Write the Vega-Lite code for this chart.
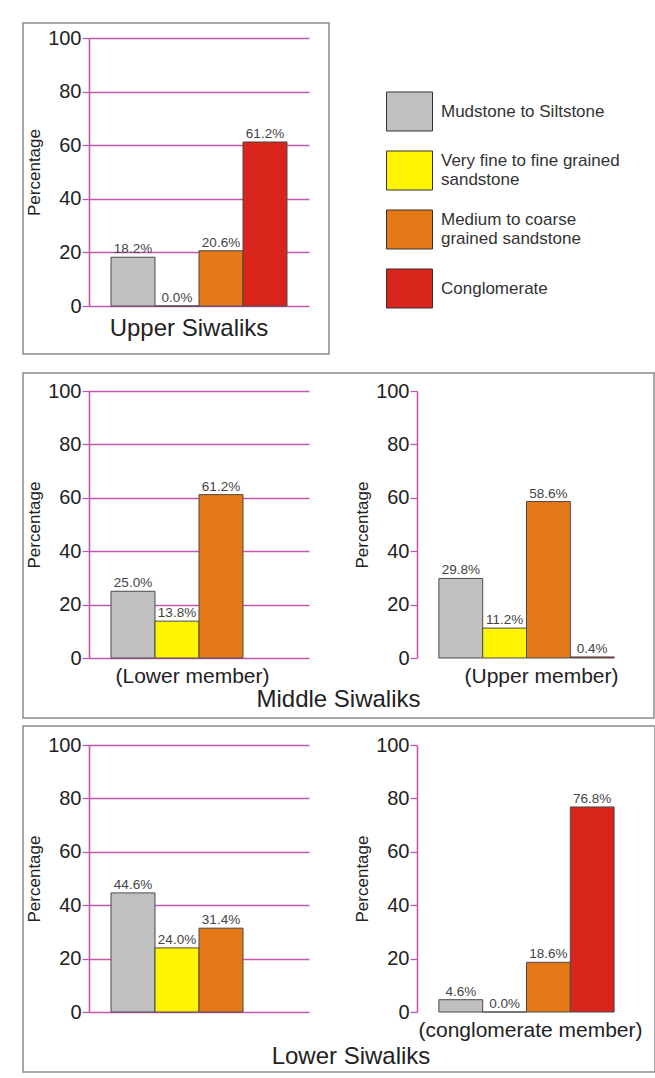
{
  "$schema": "https://vega.github.io/schema/vega-lite/v6.json",
  "padding": {"left": 22, "top": 22, "right": 2, "bottom": 4},
  "background": "white",
  "datasets": {
    "upper": [
      {"lithology": "Mudstone to Siltstone", "percent": 18.2},
      {"lithology": "Very fine to fine grained sandstone", "percent": 0.0},
      {"lithology": "Medium to coarse grained sandstone", "percent": 20.6},
      {"lithology": "Conglomerate", "percent": 61.2}
    ],
    "middleLower": [
      {"lithology": "Mudstone to Siltstone", "percent": 25.0},
      {"lithology": "Very fine to fine grained sandstone", "percent": 13.8},
      {"lithology": "Medium to coarse grained sandstone", "percent": 61.2}
    ],
    "middleUpper": [
      {"lithology": "Mudstone to Siltstone", "percent": 29.8},
      {"lithology": "Very fine to fine grained sandstone", "percent": 11.2},
      {"lithology": "Medium to coarse grained sandstone", "percent": 58.6},
      {"lithology": "Conglomerate", "percent": 0.4}
    ],
    "lowerMain": [
      {"lithology": "Mudstone to Siltstone", "percent": 44.6},
      {"lithology": "Very fine to fine grained sandstone", "percent": 24.0},
      {"lithology": "Medium to coarse grained sandstone", "percent": 31.4}
    ],
    "lowerConglomerate": [
      {"lithology": "Mudstone to Siltstone", "percent": 4.6},
      {"lithology": "Very fine to fine grained sandstone", "percent": 0.0},
      {"lithology": "Medium to coarse grained sandstone", "percent": 18.6},
      {"lithology": "Conglomerate", "percent": 76.8}
    ]
  },
  "vconcat": [
    {
      "spacing": 17,
      "vconcat": [
        {
          "width": 306,
          "height": 331,
          "title": {"text": "Upper Siwaliks", "offset": -37, "dx": 13},
          "data": {"name": "upper"},
          "transform": [{"calculate": "format(datum.percent, '.1f') + '%'", "as": "label"}],
          "encoding": {
            "x": {"field": "lithology", "type": "nominal",
                  "scale": {"domain": ["Mudstone to Siltstone", "Very fine to fine grained sandstone", "Medium to coarse grained sandstone", "Conglomerate"],
                            "range": [66, 286], "paddingInner": 0, "paddingOuter": 0.5},
                  "axis": null},
            "y": {"field": "percent", "type": "quantitative",
                  "scale": {"domain": [0, 100], "range": [283, 15], "nice": false},
                  "axis": {"orient": "left", "offset": -66, "title": "Percentage", "values": [0, 20, 40, 60, 80, 100]}}
          },
          "layer": [
            {"mark": {"type": "bar"},
             "encoding": {"color": {"field": "lithology", "type": "nominal",
               "scale": {"domain": ["Mudstone to Siltstone", "Very fine to fine grained sandstone", "Medium to coarse grained sandstone", "Conglomerate"],
                         "range": ["#c0c0c0", "#fff500", "#e57817", "#d9241c"]},
               "legend": {"labelExpr": "datum.label == 'Very fine to fine grained sandstone' ? ['Very fine to fine grained', 'sandstone'] : datum.label == 'Medium to coarse grained sandstone' ? ['Medium to coarse', 'grained sandstone'] : datum.label"}}}},
            {"mark": {"type": "text"}, "encoding": {"text": {"field": "label"}}}
          ]
        },
        {
          "width": 631,
          "height": 345,
          "title": {"text": "Middle Siwaliks", "offset": -30},
          "layer": [
            {
              "data": {"name": "middleLower"},
              "transform": [{"calculate": "format(datum.percent, '.1f') + '%'", "as": "label"}],
              "encoding": {
                "x": {"field": "lithology", "type": "nominal",
                      "scale": {"domain": ["Mudstone to Siltstone", "Very fine to fine grained sandstone", "Medium to coarse grained sandstone", "Conglomerate"],
                                "range": [66, 286], "paddingInner": 0, "paddingOuter": 0.5},
                      "axis": {"orient": "bottom", "offset": -60, "title": "(Lower member)", "titleX": 169, "titlePadding": 7}},
                "y": {"field": "percent", "type": "quantitative",
                      "scale": {"domain": [0, 100], "range": [285, 18], "nice": false},
                      "axis": {"orient": "left", "offset": -66, "title": "Percentage", "values": [0, 20, 40, 60, 80, 100]}}
              },
              "layer": [
                {"mark": {"type": "bar"},
                 "encoding": {"color": {"field": "lithology", "type": "nominal",
                   "legend": {"labelExpr": "datum.label == 'Very fine to fine grained sandstone' ? ['Very fine to fine grained', 'sandstone'] : datum.label == 'Medium to coarse grained sandstone' ? ['Medium to coarse', 'grained sandstone'] : datum.label"}}}},
                {"mark": {"type": "text"}, "encoding": {"text": {"field": "label"}}}
              ]
            },
            {
              "data": {"name": "middleUpper"},
              "transform": [{"calculate": "format(datum.percent, '.1f') + '%'", "as": "label"}],
              "encoding": {
                "x": {"field": "lithology", "type": "nominal",
                      "scale": {"domain": ["Mudstone to Siltstone", "Very fine to fine grained sandstone", "Medium to coarse grained sandstone", "Conglomerate"],
                                "range": [394, 613], "paddingInner": 0, "paddingOuter": 0.5},
                      "axis": {"orient": "bottom", "offset": -60, "title": "(Upper member)", "titleX": 518, "titlePadding": 7}},
                "y": {"field": "percent", "type": "quantitative",
                      "scale": {"domain": [0, 100], "range": [285, 18], "nice": false},
                      "axis": {"orient": "left", "offset": -394, "title": "Percentage", "values": [0, 20, 40, 60, 80, 100]}}
              },
              "layer": [
                {"mark": {"type": "bar"},
                 "encoding": {"color": {"field": "lithology", "type": "nominal",
                   "legend": {"labelExpr": "datum.label == 'Very fine to fine grained sandstone' ? ['Very fine to fine grained', 'sandstone'] : datum.label == 'Medium to coarse grained sandstone' ? ['Medium to coarse', 'grained sandstone'] : datum.label"}}}},
                {"mark": {"type": "text"}, "encoding": {"text": {"field": "label"}}}
              ]
            }
          ],
          "resolve": {"scale": {"x": "independent", "y": "independent"}, "axis": {"x": "independent", "y": "independent"}}
        }
      ]
    },
    {
      "width": 632,
      "height": 346,
      "title": {"text": "Lower Siwaliks", "offset": -27, "dx": 12},
      "layer": [
        {
          "data": {"name": "lowerMain"},
          "transform": [{"calculate": "format(datum.percent, '.1f') + '%'", "as": "label"}],
          "encoding": {
            "x": {"field": "lithology", "type": "nominal",
                  "scale": {"domain": ["Mudstone to Siltstone", "Very fine to fine grained sandstone", "Medium to coarse grained sandstone", "Conglomerate"],
                            "range": [66, 286], "paddingInner": 0, "paddingOuter": 0.5},
                  "axis": null},
            "y": {"field": "percent", "type": "quantitative",
                  "scale": {"domain": [0, 100], "range": [286, 19], "nice": false},
                  "axis": {"orient": "left", "offset": -66, "title": "Percentage", "values": [0, 20, 40, 60, 80, 100]}}
          },
          "layer": [
            {"mark": {"type": "bar"},
             "encoding": {"color": {"field": "lithology", "type": "nominal",
               "legend": {"labelExpr": "datum.label == 'Very fine to fine grained sandstone' ? ['Very fine to fine grained', 'sandstone'] : datum.label == 'Medium to coarse grained sandstone' ? ['Medium to coarse', 'grained sandstone'] : datum.label"}}}},
            {"mark": {"type": "text"}, "encoding": {"text": {"field": "label"}}}
          ]
        },
        {
          "data": {"name": "lowerConglomerate"},
          "transform": [{"calculate": "format(datum.percent, '.1f') + '%'", "as": "label"}],
          "encoding": {
            "x": {"field": "lithology", "type": "nominal",
                  "scale": {"domain": ["Mudstone to Siltstone", "Very fine to fine grained sandstone", "Medium to coarse grained sandstone", "Conglomerate"],
                            "range": [394, 613], "paddingInner": 0, "paddingOuter": 0.5},
                  "axis": {"orient": "bottom", "offset": -60, "title": "(conglomerate member)", "titleX": 507, "titlePadding": 7}},
            "y": {"field": "percent", "type": "quantitative",
                  "scale": {"domain": [0, 100], "range": [286, 19], "nice": false},
                  "axis": {"orient": "left", "offset": -394, "title": "Percentage", "values": [0, 20, 40, 60, 80, 100]}}
          },
          "layer": [
            {"mark": {"type": "bar"},
             "encoding": {"color": {"field": "lithology", "type": "nominal",
               "legend": {"labelExpr": "datum.label == 'Very fine to fine grained sandstone' ? ['Very fine to fine grained', 'sandstone'] : datum.label == 'Medium to coarse grained sandstone' ? ['Medium to coarse', 'grained sandstone'] : datum.label"}}}},
            {"mark": {"type": "text"}, "encoding": {"text": {"field": "label"}}}
          ]
        }
      ],
      "resolve": {"scale": {"x": "independent", "y": "independent"}, "axis": {"x": "independent", "y": "independent"}}
    }
  ],
  "spacing": 6,
  "config": {
    "font": "Liberation Sans",
    "view": {"stroke": "#8c8c8c", "strokeWidth": 1.5},
    "bar": {"stroke": "#4a4a4a", "strokeWidth": 1},
    "text": {"baseline": "bottom", "dy": -1, "fontSize": 13.5, "color": "#444"},
    "title": {"orient": "bottom", "frame": "group", "anchor": "middle", "fontSize": 24, "fontWeight": "normal", "color": "#222", "baseline": "top"},
    "axisY": {
      "grid": true, "gridColor": "#c458ad", "gridWidth": 1.3, "gridOpacity": 1,
      "domainColor": "#c458ad", "domainWidth": 1.6,
      "tickColor": "#c458ad", "tickSize": 7, "tickWidth": 1.3,
      "labelFontSize": 20, "labelColor": "#222", "labelPadding": 1,
      "titleFontSize": 17, "titleFontWeight": "normal", "titleColor": "#222", "titlePadding": 4
    },
    "axisX": {
      "domain": false, "ticks": false, "labels": false, "grid": false,
      "titleFontSize": 21, "titleFontWeight": "normal", "titleColor": "#222", "titlePadding": 4
    },
    "legend": {
      "orient": "none", "legendX": 363, "legendY": 65, "title": null,
      "symbolType": "M-1,-0.848H1V0.848H-1Z", "symbolSize": 2116,
      "symbolStrokeColor": "#333", "symbolStrokeWidth": 1.5, "symbolOpacity": 1,
      "labelFontSize": 17, "labelColor": "#333", "labelLimit": 300, "labelOffset": 8,
      "labelBaseline": {"expr": "indexof(datum.value, 'sandstone') >= 0 ? 'line-bottom' : 'middle'"},
      "rowPadding": 13
    }
  }
}
